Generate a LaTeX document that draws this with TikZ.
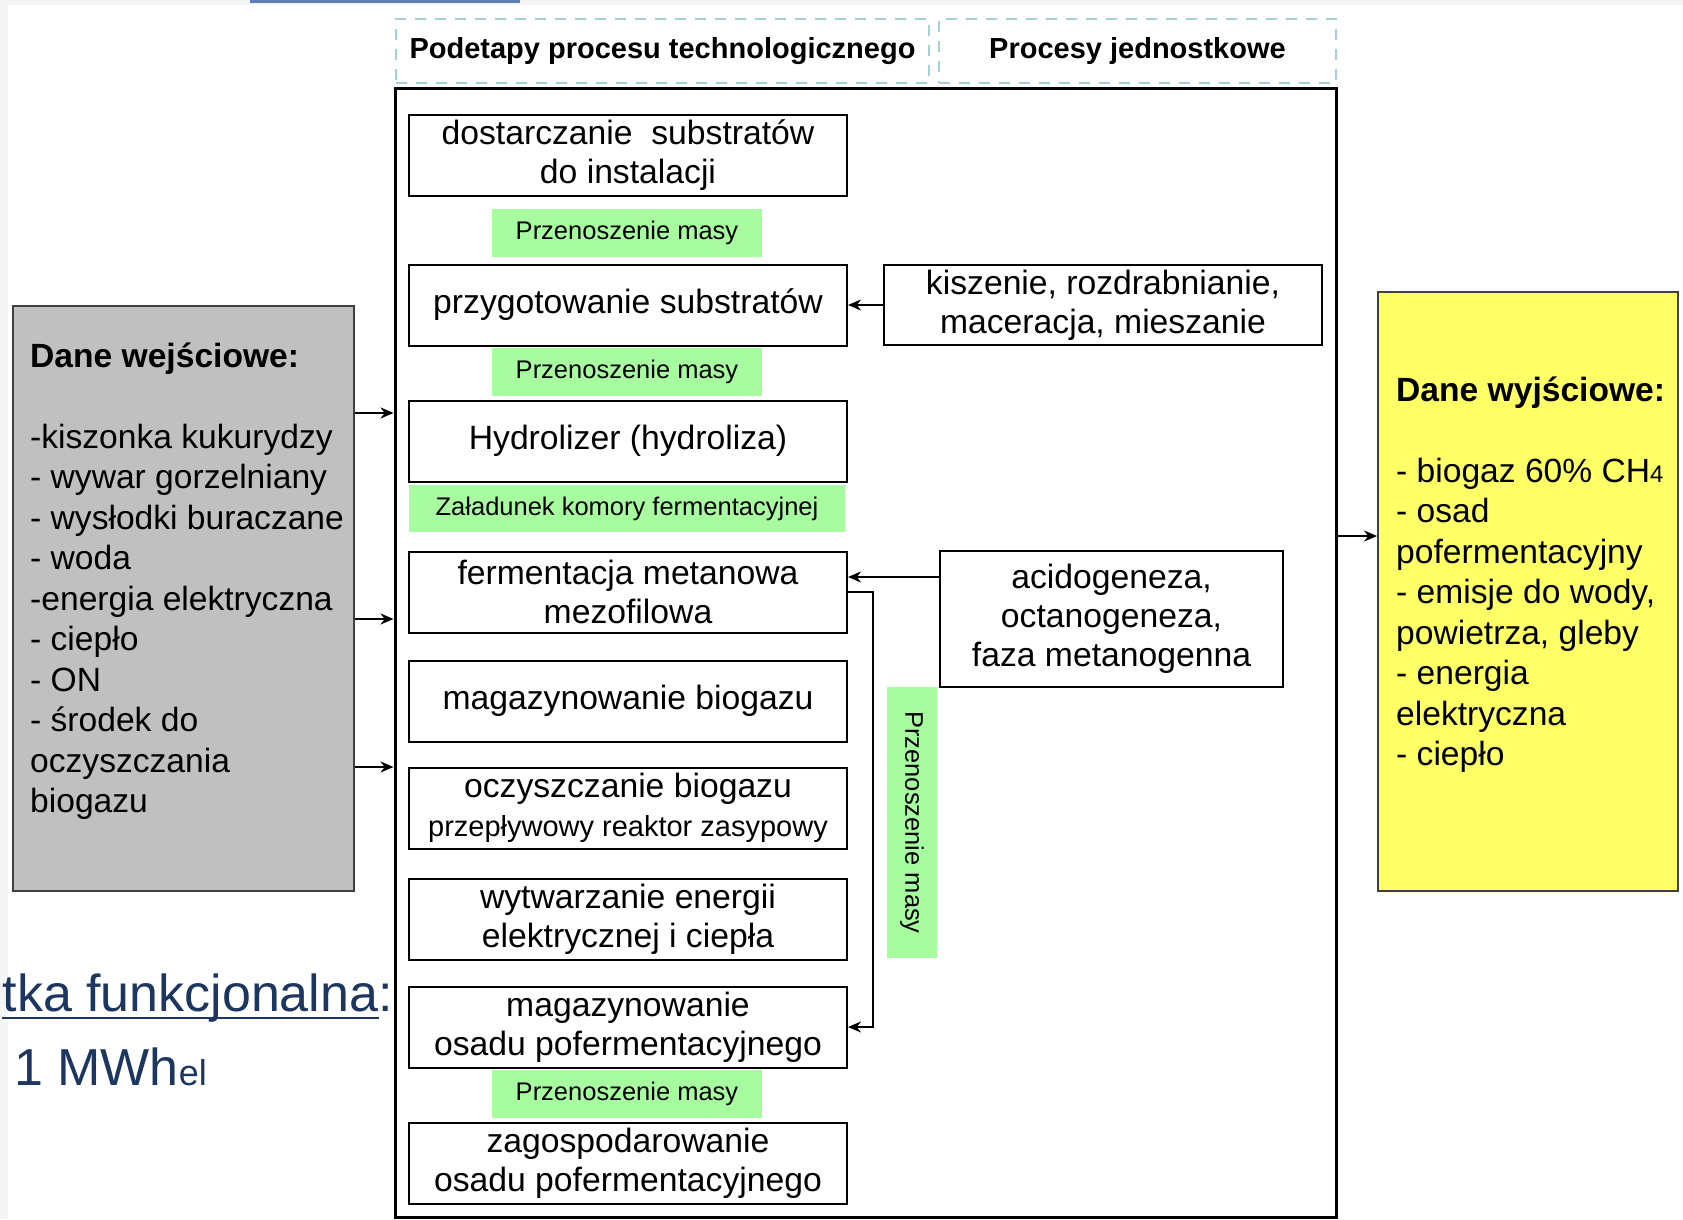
\documentclass[tikz,border=0pt]{standalone}
\usepackage{fontspec}
\setmainfont{Liberation Sans}
\usepackage{tikz}
\usetikzlibrary{arrows.meta}
\usetikzlibrary{calc}
\definecolor{massgreen}{RGB}{168,252,160}
\definecolor{ingray}{RGB}{192,192,192}
\definecolor{outyellow}{RGB}{255,255,102}
\definecolor{headcyan}{RGB}{160,210,215}
\definecolor{unitnavy}{RGB}{28,54,96}
\definecolor{slideblue}{RGB}{95,125,180}
\newcommand{\stagefont}{\fontsize{33.7}{39}\selectfont}
\newcommand{\massfont}{\fontsize{25.5}{30}\selectfont}
\newcommand{\headfont}{\fontsize{29}{34}\selectfont\bfseries}
\newcommand{\datafont}{\fontsize{33.6}{40.5}\selectfont}
\newcommand{\unitfont}{\fontsize{52}{60}\selectfont}
\tikzset{
  stage/.style={draw=black, line width=2pt, fill=white, minimum width=438pt, minimum height=81pt, inner sep=0pt, align=center, font=\stagefont},
  mass/.style={fill=massgreen, minimum width=270pt, minimum height=48pt, inner sep=0pt, font=\massfont},
  header/.style={draw=headcyan, dash pattern=on 11pt off 9pt, line width=2pt, minimum height=64pt, inner sep=0pt, font=\headfont},
  databox/.style={draw=black!75, line width=2pt},
  datatext/.style={anchor=base west, align=left, inner sep=0pt, font=\datafont},
  flow/.style={draw=black, line width=2pt, ->, >={Stealth[length=13pt,width=11pt]}},
}

\begin{document}
\begin{tikzpicture}[x=1pt,y=-1pt]
\useasboundingbox (0,0) rectangle (1683,1219);
\fill[black!4] (0,0) rectangle (1683,5);
\fill[black!4] (0,0) rectangle (8,1219);
\fill[slideblue] (250,0) rectangle (520,3);

\node[header, minimum width=533pt] (hdrstage) at (662.5,51) {Podetapy procesu technologicznego};
\node[header, minimum width=397pt] (hdrunit) at (1137.5,51) {Procesy jednostkowe};
\node[draw=black, line width=3pt, minimum width=941pt, minimum height=1129pt] (mainbox) at (865.5,652.5) {};

\node[stage] (supply) at (628,155) {dostarczanie\ \ substratów\\do instalacji};
\node[stage] (prep) at (628,305) {przygotowanie substratów};
\node[stage] (hydro) at (628,441) {Hydrolizer (hydroliza)};
\node[stage] (ferm) at (628,592) {fermentacja metanowa\\mezofilowa};
\node[stage] (gasstore) at (628,701) {magazynowanie biogazu};
\node[stage] (cleaning) at (628,808) {oczyszczanie biogazu\\{\fontsize{29}{34}\selectfont przepływowy reaktor zasypowy}};
\node[stage] (chp) at (628,919) {wytwarzanie energii\\elektrycznej i ciepła};
\node[stage] (digestate) at (628,1027) {magazynowanie\\osadu pofermentacyjnego};
\node[stage] (disposal) at (628,1163) {zagospodarowanie\\osadu pofermentacyjnego};

\foreach \y [count=\i] in {233,372,1094}
  \node[mass] (mass\i) at (627,\y) {Przenoszenie masy};
\node[mass, minimum width=436pt, minimum height=47pt] (loading) at (627,508.5) {Załadunek komory fermentacyjnej};
\node[mass, minimum width=271pt, minimum height=50pt, rotate=-90] (massside) at (912,822.5) {Przenoszenie masy};

\node[stage, minimum height=80pt] (pretreat) at (1103,305) {kiszenie, rozdrabnianie,\\maceracja, mieszanie};
\node[stage, minimum width=343pt, minimum height=136pt] (phases) at (1111.5,619) {acidogeneza,\\octanogeneza,\\faza metanogenna};

\draw[flow] (pretreat.west) -- (prep.east);
\coordinate (fermin) at ([yshift=15pt]ferm.east);
\draw[flow] (phases.west |- fermin) -- (fermin);
\draw[flow] (ferm.east) -- ++(25,0) |- (digestate.east);

\node[databox, fill=ingray, minimum width=341pt, minimum height=585pt] (inbox) at (183.5,598.5) {};
\node[datatext] (intext) at (30,812.5) {\textbf{Dane wejściowe:}\\\mbox{}\\-kiszonka kukurydzy\\- wywar gorzelniany\\- wysłodki buraczane\\- woda\\-energia elektryczna\\- ciepło\\- ON\\- środek do\\oczyszczania\\biogazu};
\node[databox, fill=outyellow, minimum width=300pt, minimum height=599pt] (outbox) at (1528,591.5) {};
\node[datatext] (outtext) at (1396,765.5) {\textbf{Dane wyjściowe:}\\\mbox{}\\- biogaz 60\% CH{\fontsize{24}{28}\selectfont 4}\\- osad\\pofermentacyjny\\- emisje do wody,\\powietrza, gleby\\- energia\\elektryczna\\- ciepło};

\foreach \y in {413,619,767}
  \draw[flow] (inbox.east |- 0,\y) -- (mainbox.west |- 0,\y);
\draw[flow] (mainbox.east |- 0,536) -- (outbox.west |- 0,536);

\node[anchor=base east, inner sep=0pt, font=\unitfont, text=unitnavy] (unitname) at (393,1011) {tka funkcjonalna:};
\draw[unitnavy, line width=2.5pt] ([yshift=-7pt]unitname.base west) -- ([yshift=-7pt, xshift=-14pt]unitname.base east);
\node[anchor=base west, inner sep=0pt, font=\unitfont, text=unitnavy] (unitvalue) at (14,1085) {1 MWh{\fontsize{36}{40}\selectfont el}};
\end{tikzpicture}
\end{document}
